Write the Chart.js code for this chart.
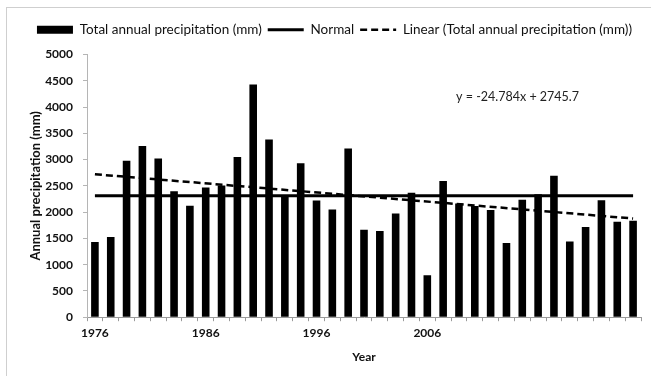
<!DOCTYPE html>
<html>
<head>
<meta charset="utf-8">
<script src="https://cdn.jsdelivr.net/npm/chart.js@4/dist/chart.umd.min.js"></script>
<style>
  html, body { margin: 0; padding: 0; background: #fff; }
  #wrap { width: 651px; height: 376px; position: relative; }
</style>
</head>
<body>
<div id="wrap"><canvas id="precip"></canvas></div>
<script>
const years = [1976, 1977, 1978, 1979, 1980, 1981, 1982, 1983, 1984, 1985,
  1986, 1987, 1988, 1989, 1990, 1991, 1992, 1993, 1994, 1995,
  1996, 1997, 1998, 1999, 2000, 2001, 2002, 2003, 2004, 2005,
  2006, 2007, 2008, 2009, 2010];
const precipitation = [1430, 1525, 2980, 3260, 3020, 2395, 2120, 2470, 2505, 3050,
  4430, 3380, 2320, 2930, 2220, 2050, 3210, 1665, 1640, 1975,
  2370, 800, 2590, 2165, 2115, 2040, 1410, 2235, 2340, 2690,
  1440, 1715, 2225, 1815, 1835];
const normalValue = 2310;
const trendSlope = -24.784;
const trendIntercept = 2745.7;
const tickLabels = ['1976', '1986', '1996', '2006'];
const tickStep = 7;
const yMax = 5000;
const yStep = 500;

const FONT = 'Lato, "Open Sans", sans-serif';
const n = precipitation.length;

// normal and trend lines only need their two end points
const normalLine = precipitation.map((v, i) => (i === 0 || i === n - 1) ? normalValue : null);
const trendLine = precipitation.map((v, i) =>
  (i === 0 || i === n - 1) ? trendSlope * (i + 1) + trendIntercept : null);

const frame = {
  id: 'frame',
  beforeDraw(chart) {
    const ctx = chart.ctx;
    ctx.save();
    ctx.strokeStyle = '#cfcfcf';
    ctx.lineWidth = 1;
    ctx.strokeRect(6.5, 7.5, 700, 400);
    ctx.restore();
  }
};

// extra room between legend and plot
const legendGap = {
  id: 'legendGap',
  beforeInit(chart) {
    const fit = chart.legend.fit;
    chart.legend.fit = function () {
      fit.call(this);
      this.height += 8;
    };
  }
};

const equation = {
  id: 'equation',
  afterDraw(chart) {
    const ctx = chart.ctx;
    const x = chart.scales.x;
    const y = chart.scales.y;
    const sign = trendIntercept < 0 ? '- ' : '+ ';
    const text = 'y = ' + trendSlope + 'x ' + sign + Math.abs(trendIntercept);
    ctx.save();
    ctx.font = '12.5px ' + FONT;
    ctx.fillStyle = '#222';
    ctx.textAlign = 'center';
    ctx.textBaseline = 'middle';
    ctx.fillText(text, x.getPixelForValue(26.7), y.getPixelForValue(4200));
    ctx.restore();
  }
};

new Chart(document.getElementById('precip'), {
  data: {
    labels: years,
    datasets: [
      {
        type: 'bar',
        label: 'Total annual precipitation (mm)',
        data: precipitation,
        backgroundColor: '#000',
        borderWidth: 0,
        categoryPercentage: 1,
        barPercentage: 0.48,
        pointStyle: 'rect',
        order: 3
      },
      {
        type: 'line',
        label: 'Normal',
        data: normalLine,
        borderColor: '#000',
        borderWidth: 3,
        pointRadius: 0,
        pointStyle: 'line',
        spanGaps: true,
        order: 2
      },
      {
        type: 'line',
        label: 'Linear (Total annual precipitation (mm))',
        data: trendLine,
        borderColor: '#000',
        borderWidth: 2.5,
        borderDash: [7, 4],
        pointRadius: 0,
        pointStyle: 'line',
        spanGaps: true,
        order: 1
      }
    ]
  },
  options: {
    responsive: true,
    maintainAspectRatio: false,
    animation: false,
    layout: { padding: { left: 28, right: 10, top: 17, bottom: 12 } },
    plugins: {
      tooltip: { enabled: false },
      legend: {
        position: 'top',
        labels: {
          usePointStyle: true,
          pointStyleWidth: 36,
          boxHeight: 8,
          padding: 6,
          color: '#111',
          font: { family: FONT, size: 13.5 },
          sort: (a, b) => a.datasetIndex - b.datasetIndex,
          generateLabels(chart) {
            const items = Chart.defaults.plugins.legend.labels.generateLabels(chart);
            items.forEach(item => {
              const ds = chart.data.datasets[item.datasetIndex];
              if (ds.type === 'line') {
                item.lineWidth = ds.borderWidth;
                item.lineDash = ds.borderDash || [];
                item.strokeStyle = '#000';
              } else {
                item.lineWidth = 0;
                item.fillStyle = '#000';
              }
            });
            return items;
          }
        }
      }
    },
    scales: {
      x: {
        type: 'category',
        offset: true,
        grid: { offset: true, drawOnChartArea: false, drawTicks: true, tickLength: 4, color: '#9a9a9a' },
        border: { color: '#9a9a9a' },
        ticks: {
          autoSkip: false,
          maxRotation: 0,
          padding: 5,
          color: '#111',
          font: { family: FONT, size: 12, weight: 'bold' },
          callback(value, index) {
            return index % tickStep === 0 ? (tickLabels[index / tickStep] || '') : '';
          }
        },
        title: {
          display: true,
          text: 'Year',
          color: '#111',
          padding: { top: 4, bottom: 0 },
          font: { family: FONT, size: 12, weight: 'bold' }
        }
      },
      y: {
        min: 0,
        max: yMax,
        grid: { drawOnChartArea: false, drawTicks: true, tickLength: 4, color: '#b5b5b5' },
        border: { color: '#b5b5b5' },
        ticks: {
          stepSize: yStep,
          padding: 10,
          color: '#111',
          font: { family: FONT, size: 12, weight: 'bold' },
          callback: value => String(value)
        },
        title: {
          display: true,
          text: 'Annual precipitation (mm)',
          color: '#111',
          padding: { top: 0, bottom: 4 },
          font: { family: FONT, size: 13, weight: 'bold' }
        },
        afterFit(scale) { scale.width = 59; }
      }
    }
  },
  plugins: [frame, legendGap, equation]
});
</script>
</body>
</html>
